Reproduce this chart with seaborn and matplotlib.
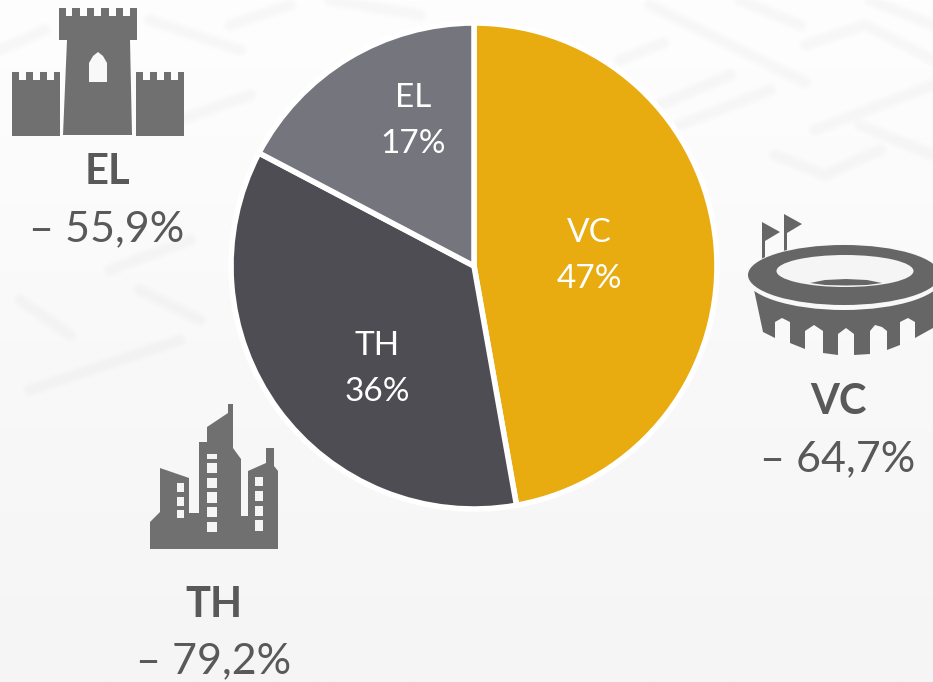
import numpy as np
import matplotlib.pyplot as plt
import seaborn as sns
from matplotlib.patches import Polygon, Rectangle, Ellipse

categories = ['VC', 'TH', 'EL']
shares = [47.2, 35.5, 17.3]   # slice sizes as measured on the picture
share_labels = ['47%', '36%', '17%']
changes = ['– 64,7%', '– 79,2%', '– 55,9%']
pie_colors = ['#E8AB10', '#4E4D53', '#75757E']

sns.set_theme(style='white')
plt.rcParams['font.family'] = ['Lato', 'DejaVu Sans']

fig = plt.figure(figsize=(9.33, 6.82), dpi=100)

# background + icons live on a full-figure axes in pixel units
bg = fig.add_axes([0, 0, 1, 1])
bg.set_xlim(0, 933)
bg.set_ylim(682, 0)
bg.axis('off')
grad = np.linspace(0, 1, 256).reshape(-1, 1)
bg.imshow(grad, extent=[0, 933, 682, 0], aspect='auto',
          cmap=sns.blend_palette(['#FEFEFE', '#F9F9F9', '#F5F5F5'], as_cmap=True), zorder=0)

# faint maze pattern, three widths so the edges stay soft
maze = [[(650, 5), (805, 82)], [(620, 60), (663, 43)], [(660, 105), (730, 75)], [(680, 125), (770, 90)],
        [(806, 45), (865, 25), (933, 60)], [(815, 130), (933, 85)], [(775, 155), (825, 175), (880, 150)],
        [(740, 0), (800, 25)], [(870, 0), (933, 25)], [(860, 125), (933, 155)], [(230, 25), (290, 5)],
        [(330, 0), (420, 15)], [(0, 50), (45, 30)], [(150, 20), (240, 50)], [(180, 120), (250, 95)],
        [(20, 300), (70, 335)], [(110, 270), (190, 240)], [(140, 290), (200, 320)], [(30, 390), (180, 340)]]
for pts in maze:
    xs, ys = zip(*pts)
    for lw in [11, 8, 5]:
        bg.plot(xs, ys, color='black', alpha=0.006, lw=lw, solid_capstyle='round', solid_joinstyle='miter', zorder=1)

icon = '#707070'
hole = '#F8F8F8'

# castle
castle = [(59, 8), (66, 8), (66, 16), (72, 16), (72, 8), (80, 8), (80, 16), (87, 16), (87, 8), (94, 8), (94, 16),
          (101, 16), (101, 8), (109, 8), (109, 16), (116, 16), (116, 8), (123, 8), (123, 16), (130, 16), (130, 8),
          (137, 8), (137, 40), (130, 40), (132, 135), (63, 135), (67, 40), (59, 40)]
bg.add_patch(Polygon(castle, color=icon, lw=0, zorder=3))
bg.add_patch(Polygon([(89, 82), (89, 63), (93, 56), (98, 52), (103, 56), (107, 63), (107, 82)],
                     color=hole, lw=0, zorder=4))
for x0 in [12, 136]:
    tower = [(x0, 72), (x0 + 7, 72), (x0 + 7, 80), (x0 + 14, 80), (x0 + 14, 72), (x0 + 21, 72), (x0 + 21, 80),
             (x0 + 28, 80), (x0 + 28, 72), (x0 + 35, 72), (x0 + 35, 80), (x0 + 42, 80), (x0 + 42, 72), (x0 + 48, 72),
             (x0 + 48, 136), (x0, 136)]
    bg.add_patch(Polygon(tower, color=icon, lw=0, zorder=3))

# stadium
stadium_col = '#666666'
body = [(753, 285), (933, 285), (933, 328), (915, 338), (915, 322), (908, 318), (900, 322), (900, 345), (887, 350),
        (887, 331), (882, 327), (875, 325), (870, 331), (870, 354), (854, 355), (854, 334), (846, 328), (838, 334),
        (838, 355), (823, 353), (823, 331), (814, 325), (805, 331), (805, 349), (790, 343), (790, 322), (782, 318),
        (775, 322), (775, 338), (763, 332)]
bg.add_patch(Polygon(body, color=stadium_col, lw=0, zorder=3))
bg.add_patch(Ellipse((844, 277), 198, 66, color=hole, lw=0, zorder=4))
bg.add_patch(Ellipse((844, 275), 192, 60, color=stadium_col, lw=0, zorder=5))
bg.add_patch(Ellipse((845, 271), 137, 32, color='#F5F5F5', lw=0, zorder=6))
bg.add_patch(Polygon([(810, 283), (825, 280), (846, 279), (867, 280), (882, 283), (867, 285), (846, 285.5), (825, 285)],
                     color=stadium_col, lw=0, zorder=7))
for x0, y0 in [(762, 222), (784, 214)]:
    bg.add_patch(Polygon([(x0, y0), (x0 + 18, y0 + 10), (x0 + 3, y0 + 19), (x0 + 3, y0 + 37), (x0, y0 + 37)],
                         color=stadium_col, lw=0, zorder=3))

# buildings
city = [(150, 549), (150, 522), (160, 512), (160, 468), (189, 478), (189, 513), (199, 513), (199, 442), (207, 442),
        (207, 427), (228, 413), (228, 404), (233, 404), (233, 448), (241, 459), (241, 516), (248, 516), (248, 471),
        (266, 463), (266, 448), (274, 448), (274, 466), (278, 471), (278, 549)]
bg.add_patch(Polygon(city, color=icon, lw=0, zorder=3))
windows = [(177, 483, 6.5, 9), (177, 497, 6.5, 9), (177, 510, 6.5, 8),
           (207, 454, 10, 5), (207, 463, 10, 10), (207, 478, 10, 10), (207, 492, 10, 11), (207, 507, 10, 10),
           (207, 522, 10, 10), (255, 477, 8, 9), (255, 491, 8, 10), (255, 506, 8, 10), (255, 520, 8, 11)]
for x, y, w, h in windows:
    bg.add_patch(Rectangle((x, y), w, h, color='#F5F5F5', lw=0, zorder=4))

# side labels
text_col = '#595959'
for name, change, x, y1, y2 in zip(categories, changes, [838, 214, 107], [402, 605, 172], [459, 661, 229]):
    bg.text(x, y1, name, ha='center', va='center', fontsize=30, fontweight='bold', color=text_col)
    bg.text(x, y2, change, ha='center', va='center', fontsize=31, color=text_col)

# pie
cx, cy, r = 474, 266, 243
ax = fig.add_axes([(cx - r) / 933, 1 - (cy + r) / 682, 2 * r / 933, 2 * r / 682])
ax.patch.set_alpha(0)
ax.pie(shares, colors=pie_colors, startangle=90, counterclock=False, radius=1,
       wedgeprops={'edgecolor': 'white', 'linewidth': 4})
ax.set_xlim(-1, 1)
ax.set_ylim(-1, 1)
for txt, s, x, y in zip(categories, share_labels, [589, 377, 413], [256, 369, 121]):
    ax.text((x - cx) / r, (cy - y) / r, f'{txt}\n{s}', ha='center', va='center', fontsize=24, color='white',
            linespacing=1.67)

fig.savefig('out.png', dpi=100)
